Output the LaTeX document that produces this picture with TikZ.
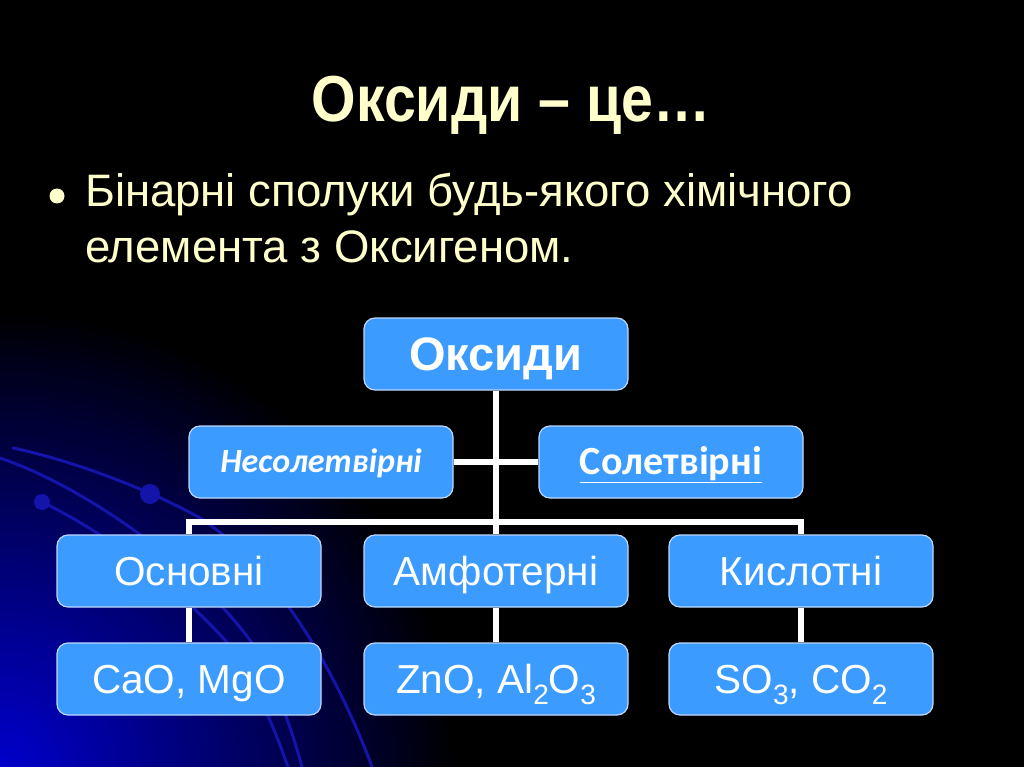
\documentclass[tikz,border=0pt]{standalone}
\usepackage{fontspec}
\setmainfont{Liberation Sans}
\newfontfamily\titlefont[FakeStretch=0.88]{Liberation Sans}
\newfontfamily\calfont{Carlito}
\definecolor{boxblue}{RGB}{59,155,255}
\definecolor{boxedge}{RGB}{190,215,255}
\definecolor{titleyellow}{RGB}{255,255,204}
\definecolor{arcblue}{RGB}{20,20,170}
\definecolor{bgblue}{RGB}{0,0,205}
\newcommand{\subs}[1]{\raisebox{-0.28em}{\fontsize{28}{28}\selectfont #1}}
\begin{document}
\begin{tikzpicture}[x=1pt,y=-1pt,
  chartbox/.style={draw=boxedge, line width=1.2pt, fill=boxblue, rounded corners=11pt,
    minimum width=264pt, minimum height=72pt, inner sep=0pt, text=white,
    text height=29pt, text depth=0pt,
    font=\fontsize{40.5}{44}\selectfont},
  conn/.style={draw=white, line width=6pt, line join=miter},
  arcline/.style={draw=arcblue, line width=3pt, line cap=round}]
\useasboundingbox (0,0) rectangle (1024,767);
\fill[black] (0,0) rectangle (1024,767);
\begin{scope}
  \clip (0,0) rectangle (1024,767);
  \foreach \r in {460,452,...,8} {
    \pgfmathsetmacro{\p}{100*(1-\r/460)^0.95}
    \fill[bgblue!\p!black] (0,767) circle (\r);
  }
\end{scope}
% decorative arcs
\draw[arcline] (13,448) .. controls (80,462) and (160,495) .. (200,518) .. controls (280,570) and (340,680) .. (372,767);
\draw[arcline] (0,458) .. controls (80,485) and (190,560) .. (250,640) .. controls (275,680) and (292,730) .. (302,767);
\draw[arcline] (42,502) .. controls (100,530) and (170,580) .. (225,640) .. controls (255,680) and (275,730) .. (288,767);
\fill[arcblue] (150,494) circle (10);
\fill[arcblue] (42,502) circle (8);
% title and text
\node[font=\titlefont\fontsize{65}{70}\selectfont\bfseries, text=titleyellow, anchor=base, inner sep=0pt] (title) at (511,122) {Оксиди – це…};
\fill[titleyellow] (57,196) circle (7.5);
\node[font=\fontsize{45.5}{50}\selectfont, text=titleyellow, anchor=base west, inner sep=0pt] (l1) at (85,207) {Бінарні сполуки будь-якого хімічного};
\node[font=\fontsize{45.5}{50}\selectfont, text=titleyellow, anchor=base west, inner sep=0pt] (l2) at (85,262) {елемента з Оксигеном.};
% boxes
\node[chartbox, font=\fontsize{47}{50}\selectfont\bfseries, text height=33.6pt] (ox) at (496,354) {Оксиди};
\node[chartbox, font=\calfont\fontsize{34}{36}\selectfont\bfseries\itshape, text height=21.9pt] (nes) at (321,462) {Несолетвірні};
\node[chartbox, font=\calfont\fontsize{40}{42}\selectfont\bfseries, text height=25.8pt] (sol) at (671,462) {\underline{Солетвірні}};
\node[chartbox] (osn) at (189,571) {Основні};
\node[chartbox] (amf) at (496,571) {Амфотерні};
\node[chartbox] (kis) at (801,571) {Кислотні};
\node[chartbox] (cao) at (189,679) {CaO, MgO};
\node[chartbox] (zno) at (496,679) {ZnO, Al\subs{2}O\subs{3}};
\node[chartbox] (so) at (801,679) {SO\subs{3}, CO\subs{2}};
\coordinate (bar) at (496,522);
% connectors
\draw[conn] (ox.south) -- (amf.north);
\draw[conn] (nes.east) -- (sol.west);
\draw[conn] (osn.north) -- (osn.north |- bar) -- (kis.north |- bar) -- (kis.north);
\draw[conn] (osn.south) -- (cao.north);
\draw[conn] (amf.south) -- (zno.north);
\draw[conn] (kis.south) -- (so.north);
\end{tikzpicture}
\end{document}
